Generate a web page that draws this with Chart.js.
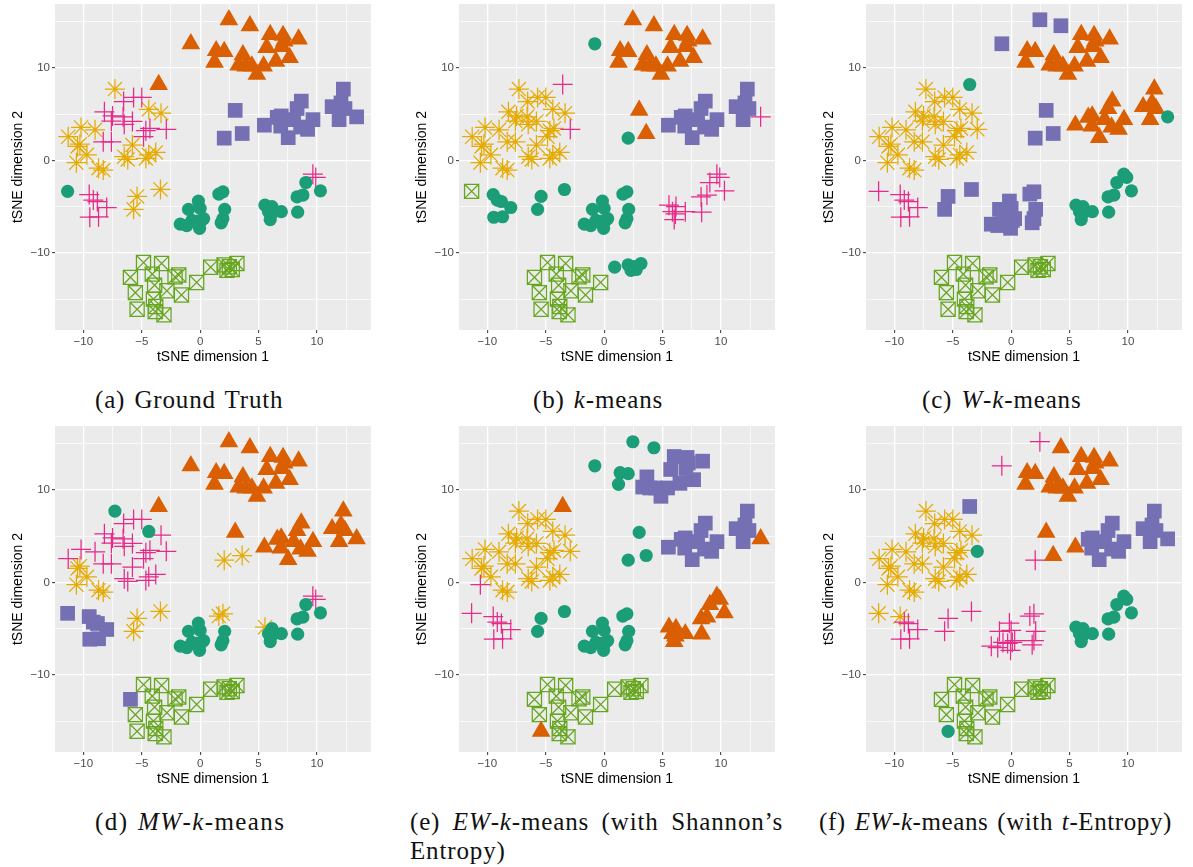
<!DOCTYPE html>
<html lang="en">
<head>
<meta charset="UTF-8">
<title>tSNE clusterings</title>
<script src="https://cdn.jsdelivr.net/npm/chart.js"></script>
<style>
    body { margin: 0; background: #fff; width: 1193px; height: 867px; position: relative; overflow: hidden; }
    canvas { position: absolute; }
    .cap { position: absolute; font-family: 'Liberation Serif', serif; font-size: 25px; letter-spacing: 0.85px; word-spacing: 2px; color: #111; white-space: nowrap; line-height: 26px; }
    .cap i { font-style: italic; }
</style>
</head>
<body>
<div class="cap" style="left:95px;top:387px">(a) Ground Truth</div>
<div class="cap" style="left:533px;top:387px">(b) <i>k</i>-means</div>
<div class="cap" style="left:922px;top:387px">(c) <i>W</i>-<i>k</i>-means</div>
<div class="cap" style="left:95px;top:809px;letter-spacing:1.4px">(d) <i>MW</i>-<i>k</i>-means</div>
<div class="cap" style="left:410px;top:809px;width:373px;white-space:normal;text-align:justify;text-align-last:justify">(e) <i>EW</i>-<i>k</i>-means (with Shannon’s</div>
<div class="cap" style="left:410px;top:838px">Entropy)</div>
<div class="cap" style="left:819px;top:809px;letter-spacing:0.6px">(f) <i>EW</i>-<i>k</i>-means (with <i>t</i>-Entropy)</div>

<script>
// tSNE coordinates, same points in each panel
const xs = [
    2.46, 4.26, -0.8, 1.37, 2.06, 1.23, 6.0, 7.1, 8.43, 5.7, 7.0, 3.66, 7.66, 6.49, 5.43, 3.3, 3.9, 4.43, 4.86, 7.2,
    -3.55,
    3.0, 3.6, 2.06,
    12.26, 12.06, 11.3, 12.4, 13.4, 11.9, 8.66, 8.3, 9.66, 6.94, 6.6, 8.0, 5.5, 6.9, 8.6, 9.2, 7.54,
    -11.3, -10.2, -9.0, -10.5, -10.3, -9.7, -10.6, -8.7, -8.3, -7.3, -4.4, -3.35, -5.8, -6.5, -6.2, -4.65, -4.4, -3.8,
    -5.7, -5.0, -6.55, -8.2, -7.5, -6.6, -7.6, -6.5, -5.8, -4.3, -4.65, -2.9, -4.85, -8.3, -7.6,
    -11.35, -9.5, -9.15, -8.8, -8.0, -8.7, -9.45,
    -5.4, -5.7, -3.4,
    -0.15, -1.0, 0.0, -1.7, -1.15, -0.7, 0.3, -0.05, -0.3, 1.6, 1.95, 2.1, 1.95, 1.8, 0.1,
    5.55, 6.15, 5.85, 6.95, 6.1, 6.0, 8.35, 8.3, 8.8, 9.05, 10.3, 9.65, 9.9,
    -4.85, -3.3, -5.97, -4.1, -2.15, -1.83, -3.9, -5.55, -2.85, -1.6, -0.3, -4.0, -5.4, -3.8, -3.85, -3.1, 0.9, 2.05, 2.3, 2.75, 3.15, 2.5
];
const ys = [
    15.2, 14.55, 12.6, 11.85, 11.75, 10.6, 13.6, 13.5, 13.1, 12.2, 12.3, 11.4, 11.1, 10.7, 10.2, 10.3, 10.2, 10.2, 9.3, 12.9,
    8.2,
    5.4, 2.9, 2.4,
    7.7, 6.2, 5.8, 5.6, 4.7, 4.4, 6.4, 5.6, 4.4, 4.8, 4.65, 4.4, 3.8, 3.7, 3.6, 3.35, 2.45,
    2.55, 3.55, 3.3, 1.5, 1.75, 0.6, -0.25, -0.85, -1.05, 7.7, 5.5, 5.1, 1.65, 0.4, 0.1, 0.2, 0.6, 0.85,
    6.8, 6.8, 6.35, 5.25, 4.8, 4.7, 4.25, 3.9, 4.2, 3.45, 3.2, 3.35, 2.55, 2.0, 2.0,
    -3.35, -3.7, -4.3, -4.45, -5.1, -6.1, -6.15,
    -3.9, -5.3, -3.15,
    -4.4, -5.3, -5.2, -6.9, -7.05, -6.5, -6.3, -7.35, -6.6, -3.65, -3.4, -5.3, -6.3, -6.75, -6.5,
    -4.85, -5.0, -5.55, -5.55, -5.8, -6.4, -5.6, -3.95, -3.75, -2.4, -3.3, -1.5, -1.85,
    -11.05, -11.15, -12.65, -12.3, -12.6, -12.4, -13.5, -14.3, -14.1, -14.55, -13.2, -15.0, -16.1, -15.8, -16.35, -16.7, -11.55, -11.3, -11.9, -11.8, -11.15, -11.5
];

// cluster labels per panel: C circle, T triangle, S square, P plus, A asterisk, X boxed cross
const labelsA = "TTTTTTTTTTTTTTTTTTTT T SSS SSSSSSSSSSSSSSSSS AAAAAAAAAAAAAAAAAA PPPPPPPPPPPPPPP CPPPPPP AAA CCCCCCCCCCCCCCC CCCCCCCCCCCPP XXXXXXXXXXXXXXXXXXXXXX";
const labelsB = "TTCTTTTTTTTTTTTTTTTT P TTC SSSSPSSSSSSSSSSSS AAAAAAAAAAAAAAAAAA AAAAAAAAAAAPAAA XCCCCCC CCC CCCCCCCCCCCCCCC PPPPPPPPPPPPP XXXXXXXXXXXXXXXXCCCCCC";
const labelsC = "SSSTTTTTTTTTTTTTTTTT C SSS TTTTCTTTTTTTTTTTT AAAAAAAAAAAAAAAAAA AAAAAAAAAAAAAAA PPPPPPP SSS SSSSSSSSSSSSSSS CCCCCCCCCCCCC XXXXXXXXXXXXXXXXXXXXXX";
const labelsD = "TTTTTTTTTTTTTTTTTTTT T TAA TTTTTTTTTTTTTTTTT PPPAAAAAACCPPPPPPP PPPPPPPPPPPPPPP SSSSSSS AAA CCCCCCCCCAACCCC ACCCCCCCCCCPP XXSXXXXXXXXXXXXXXXXXXX";
const labelsE = "CCCCCCSSSSSSSSSSSSSS T CCC SSSSTSSSSSSSSSSSS AAAAAAPAAAAAAAAAAA AAAAAAAAAAAAAAA PPPPPPP CCC CCCCCCCCCCCCCCC TTTTTTTTTTTTT XXXXXXXXXXXXTXXXXXXXXX";
const labelsF = "PTPTTTTTTTTTTTTTTTTT S TTP SSSSSSSSSSSSTSSSS AAAAAAAAAAAAAAAAAA AAAAAAAAAAACAAA AAPPPPP PPP PPPPPPPPPPPPPPP CCCCCCCCCCCCC XXXXXXXXXXXXCXXXXXXXXX";

const xTicks = [-10, -5, 0, 5, 10];
const yTicks = [-10, 0, 10];
const axisTitles = ["tSNE dimension 1", "tSNE dimension 2"];

// first dataset is painted on top
const markers = [
    { code: 'C', style: 'circle', color: '#1B9E77', r: 6.6, filled: true },
    { code: 'S', style: 'rect', color: '#7570B3', r: 10.4, filled: true },
    { code: 'T', style: 'triangle', color: '#D95F02', r: 10.8, filled: true },
    { code: 'P', style: 'cross', color: '#E7298A', r: 10, filled: false },
    { code: 'A', style: 'star', color: '#E6AB02', r: 10, filled: false },
    { code: 'X', style: 'crossRot', color: '#66A61E', r: 10, filled: false },
    { code: 'X', style: 'rect', color: '#66A61E', r: 10, filled: false }
];

const panelBg = {
    id: 'panelBg',
    beforeDraw(chart) {
        const a = chart.chartArea;
        chart.ctx.fillStyle = '#EBEBEB';
        chart.ctx.fillRect(a.left, a.top, a.width, a.height);
    }
};

function axis(title, min, max, step, labels, isY) {
    return {
        type: 'linear',
        min: min,
        max: max,
        border: { display: false },
        grid: {
            color: '#FFFFFF',
            lineWidth: c => labels.includes(c.tick.value) ? 1.3 : 0.7,
            tickColor: c => labels.includes(c.tick.value) ? '#333333' : 'rgba(0,0,0,0)',
            tickWidth: 1,
            tickLength: 3
        },
        ticks: {
            stepSize: step,
            includeBounds: false,
            autoSkip: false,
            maxRotation: 0,
            padding: 2,
            color: '#4D4D4D',
            font: { family: "'Liberation Sans'", size: 11.5 },
            callback: v => labels.includes(v) ? String(v).replace('-', '\u2212') : ''
        },
        title: {
            display: true,
            text: title,
            color: '#000',
            font: { family: "'Liberation Sans'", size: 14 },
            padding: isY ? { top: 10, bottom: 0 } : { top: 0, bottom: 0 }
        },
        afterFit(scale) {
            if (isY) scale.width = 55; else scale.height = 36;
            // no extra room for the end tick labels, the plot area stays fixed
            scale.paddingTop = 0;
            scale.paddingBottom = 0;
            scale.paddingLeft = 0;
            scale.paddingRight = 0;
        }
    };
}

function makePanel(labelStr, left, top) {
    const labels = labelStr.replace(/ /g, '').split('');
    const canvas = document.createElement('canvas');
    canvas.width = 380;
    canvas.height = 375;
    canvas.style.left = left + 'px';
    canvas.style.top = top + 'px';
    canvas.style.width = '380px';
    canvas.style.height = '375px';
    document.body.appendChild(canvas);
    const datasets = markers.map(m => {
        const pts = [];
        labels.forEach((l, i) => { if (l === m.code) pts.push({ x: xs[i], y: ys[i] }); });
        return {
            data: pts,
            showLine: false,
            pointStyle: m.style,
            pointRadius: m.r,
            pointBackgroundColor: m.filled ? m.color : 'rgba(0,0,0,0)',
            pointBorderColor: m.color,
            pointBorderWidth: m.filled ? 0 : 1.25
        };
    });
    new Chart(canvas, {
        type: 'scatter',
        data: { datasets: datasets },
        plugins: [panelBg],
        options: {
            responsive: false,
            animation: false,
            devicePixelRatio: 1,
            layout: { autoPadding: false, padding: { left: 0, right: 9, top: 4, bottom: 9 } },
            plugins: { legend: { display: false }, tooltip: { enabled: false } },
            scales: {
                x: axis(axisTitles[0], -12.43, 14.63, 2.5, xTicks, false),
                y: axis(axisTitles[1], -18.34, 16.9, 5, yTicks, true)
            }
        }
    });
}

makePanel(labelsA, 0, 0);
makePanel(labelsB, 404, 0);
makePanel(labelsC, 811, 0);
makePanel(labelsD, 0, 422);
makePanel(labelsE, 404, 422);
makePanel(labelsF, 811, 422);
</script>
</body>
</html>
